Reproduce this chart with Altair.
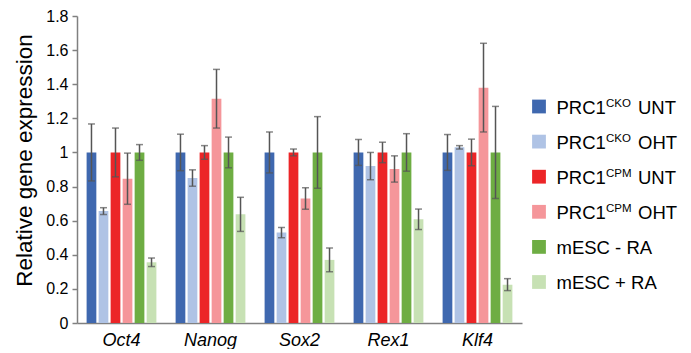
import altair as alt
import pandas as pd

genes = ["Oct4", "Nanog", "Sox2", "Rex1", "Klf4"]
series_keys = ["cko_unt", "cko_oht", "cpm_unt", "cpm_oht", "esc_minus", "esc_plus"]
label_prefix = ["PRC1", "PRC1", "PRC1", "PRC1", "mESC - RA", "mESC + RA"]
label_sup = ["CKO", "CKO", "CPM", "CPM", "", ""]
label_suffix = ["UNT", "OHT", "UNT", "OHT", "", ""]
colors = ["#3F68AF", "#AFC3E5", "#EC2527", "#F5969A", "#6EAD43", "#C7E1B4"]

cko_unt = [1.0, 1.0, 1.0, 1.0, 1.0]
cko_unt_err = [0.167, 0.107, 0.12, 0.076, 0.105]
cko_oht = [0.656, 0.85, 0.53, 0.92, 1.03]
cko_oht_err = [0.02, 0.048, 0.03, 0.08, 0.01]
cpm_unt = [1.0, 1.0, 1.0, 1.0, 1.0]
cpm_unt_err = [0.143, 0.04, 0.02, 0.06, 0.078]
cpm_oht = [0.846, 1.315, 0.73, 0.903, 1.38]
cpm_oht_err = [0.15, 0.172, 0.063, 0.077, 0.26]
esc_minus = [1.0, 1.0, 1.0, 1.0, 1.0]
esc_minus_err = [0.046, 0.09, 0.21, 0.11, 0.27]
esc_plus = [0.356, 0.637, 0.37, 0.608, 0.225]
esc_plus_err = [0.025, 0.1, 0.07, 0.06, 0.035]

y_ticks = [0, 0.2, 0.4, 0.6, 0.8, 1.0, 1.2, 1.4, 1.6, 1.8]

vals = [cko_unt, cko_oht, cpm_unt, cpm_oht, esc_minus, esc_plus]
errs = [cko_unt_err, cko_oht_err, cpm_unt_err, cpm_oht_err, esc_minus_err, esc_plus_err]

rows = []
for k, v, e in zip(series_keys, vals, errs):
    for g, vv, ee in zip(genes, v, e):
        rows.append({"gene": g, "series": k, "value": vv, "lo": vv - ee, "hi": vv + ee})
df = pd.DataFrame(rows)

FONT = "Liberation Sans, Arial, sans-serif"

x_enc = alt.X("gene:N", sort=genes,
              scale=alt.Scale(paddingInner=0, paddingOuter=0),
              axis=alt.Axis(title=None, labelFont=FONT, labelFontSize=18, labelFontStyle="italic",
                            labelColor="#000", labelAngle=0, ticks=False, tickSize=0, labelPadding=8,
                            domainColor="#808080", domainWidth=1.5))
xo_enc = alt.XOffset("series:N", sort=series_keys,
                     scale=alt.Scale(paddingInner=0.19, paddingOuter=0.8))

base = alt.Chart(df).encode(x=x_enc, xOffset=xo_enc)

y_scale = alt.Scale(domain=[0, 1.8], nice=False)
y_axis = alt.Axis(title="Relative gene expression", values=y_ticks, format="~g",
                  labelOverlap=False, labelFlush=False,
                  grid=False, labelFont=FONT, labelFontSize=16, labelColor="#000",
                  titleFont=FONT, titleFontSize=22.5, titleFontWeight="normal",
                  titleColor="#000", titlePadding=9, titleY=144, tickSize=5, tickColor="#808080",
                  tickWidth=1.5, labelPadding=4, domainColor="#808080", domainWidth=1.5)

bars = base.mark_bar().encode(
    y=alt.Y("value:Q", scale=y_scale, axis=y_axis),
    color=alt.Color("series:N", sort=series_keys,
                    scale=alt.Scale(domain=series_keys, range=colors), legend=None),
)

rules = base.mark_rule(color="#555555", strokeWidth=1.5).encode(
    y=alt.Y("lo:Q", scale=y_scale, axis=y_axis), y2="hi:Q")
cap_lo = base.mark_tick(color="#555555", orient="horizontal", size=7, thickness=1.5).encode(
    y=alt.Y("lo:Q", scale=y_scale, axis=y_axis))
cap_hi = base.mark_tick(color="#555555", orient="horizontal", size=7, thickness=1.5).encode(
    y=alt.Y("hi:Q", scale=y_scale, axis=y_axis))

main = alt.layer(bars, rules, cap_lo, cap_hi).properties(width=445, height=307)

leg_df = pd.DataFrame({"key": series_keys, "prefix": label_prefix, "sup": label_sup,
                       "suffix": label_suffix})
ly = alt.Y("key:N", sort=series_keys,
           scale=alt.Scale(type="point", padding=0, range=[90.5, 266]), axis=None)
leg_base = alt.Chart(leg_df).encode(y=ly)
sq = leg_base.mark_square(size=190, opacity=1, filled=True).encode(
    x=alt.value(17),
    color=alt.Color("key:N", scale=alt.Scale(domain=series_keys, range=colors), legend=None))
t1 = leg_base.mark_text(align="left", baseline="alphabetic", dy=7, font=FONT, fontSize=18.5,
                        color="#000").encode(x=alt.value(34.5), text="prefix:N")
t2 = leg_base.mark_text(align="left", baseline="alphabetic", dy=0, font=FONT, fontSize=11.5,
                        color="#000").encode(x=alt.value(84), text="sup:N")
t3 = leg_base.mark_text(align="left", baseline="alphabetic", dy=7, font=FONT, fontSize=18.5,
                        color="#000").encode(x=alt.value(116), text="suffix:N")
legend = alt.layer(sq, t1, t2, t3).properties(width=150, height=307)

chart = alt.hconcat(main, legend, spacing=0).resolve_scale(
    x="independent", y="independent", color="independent"
).configure_view(stroke=None).properties(
    padding={"left": 5, "top": 0, "right": 0, "bottom": 0}
)

chart.save("out.html", embed_options={"renderer": "svg", "actions": False})
